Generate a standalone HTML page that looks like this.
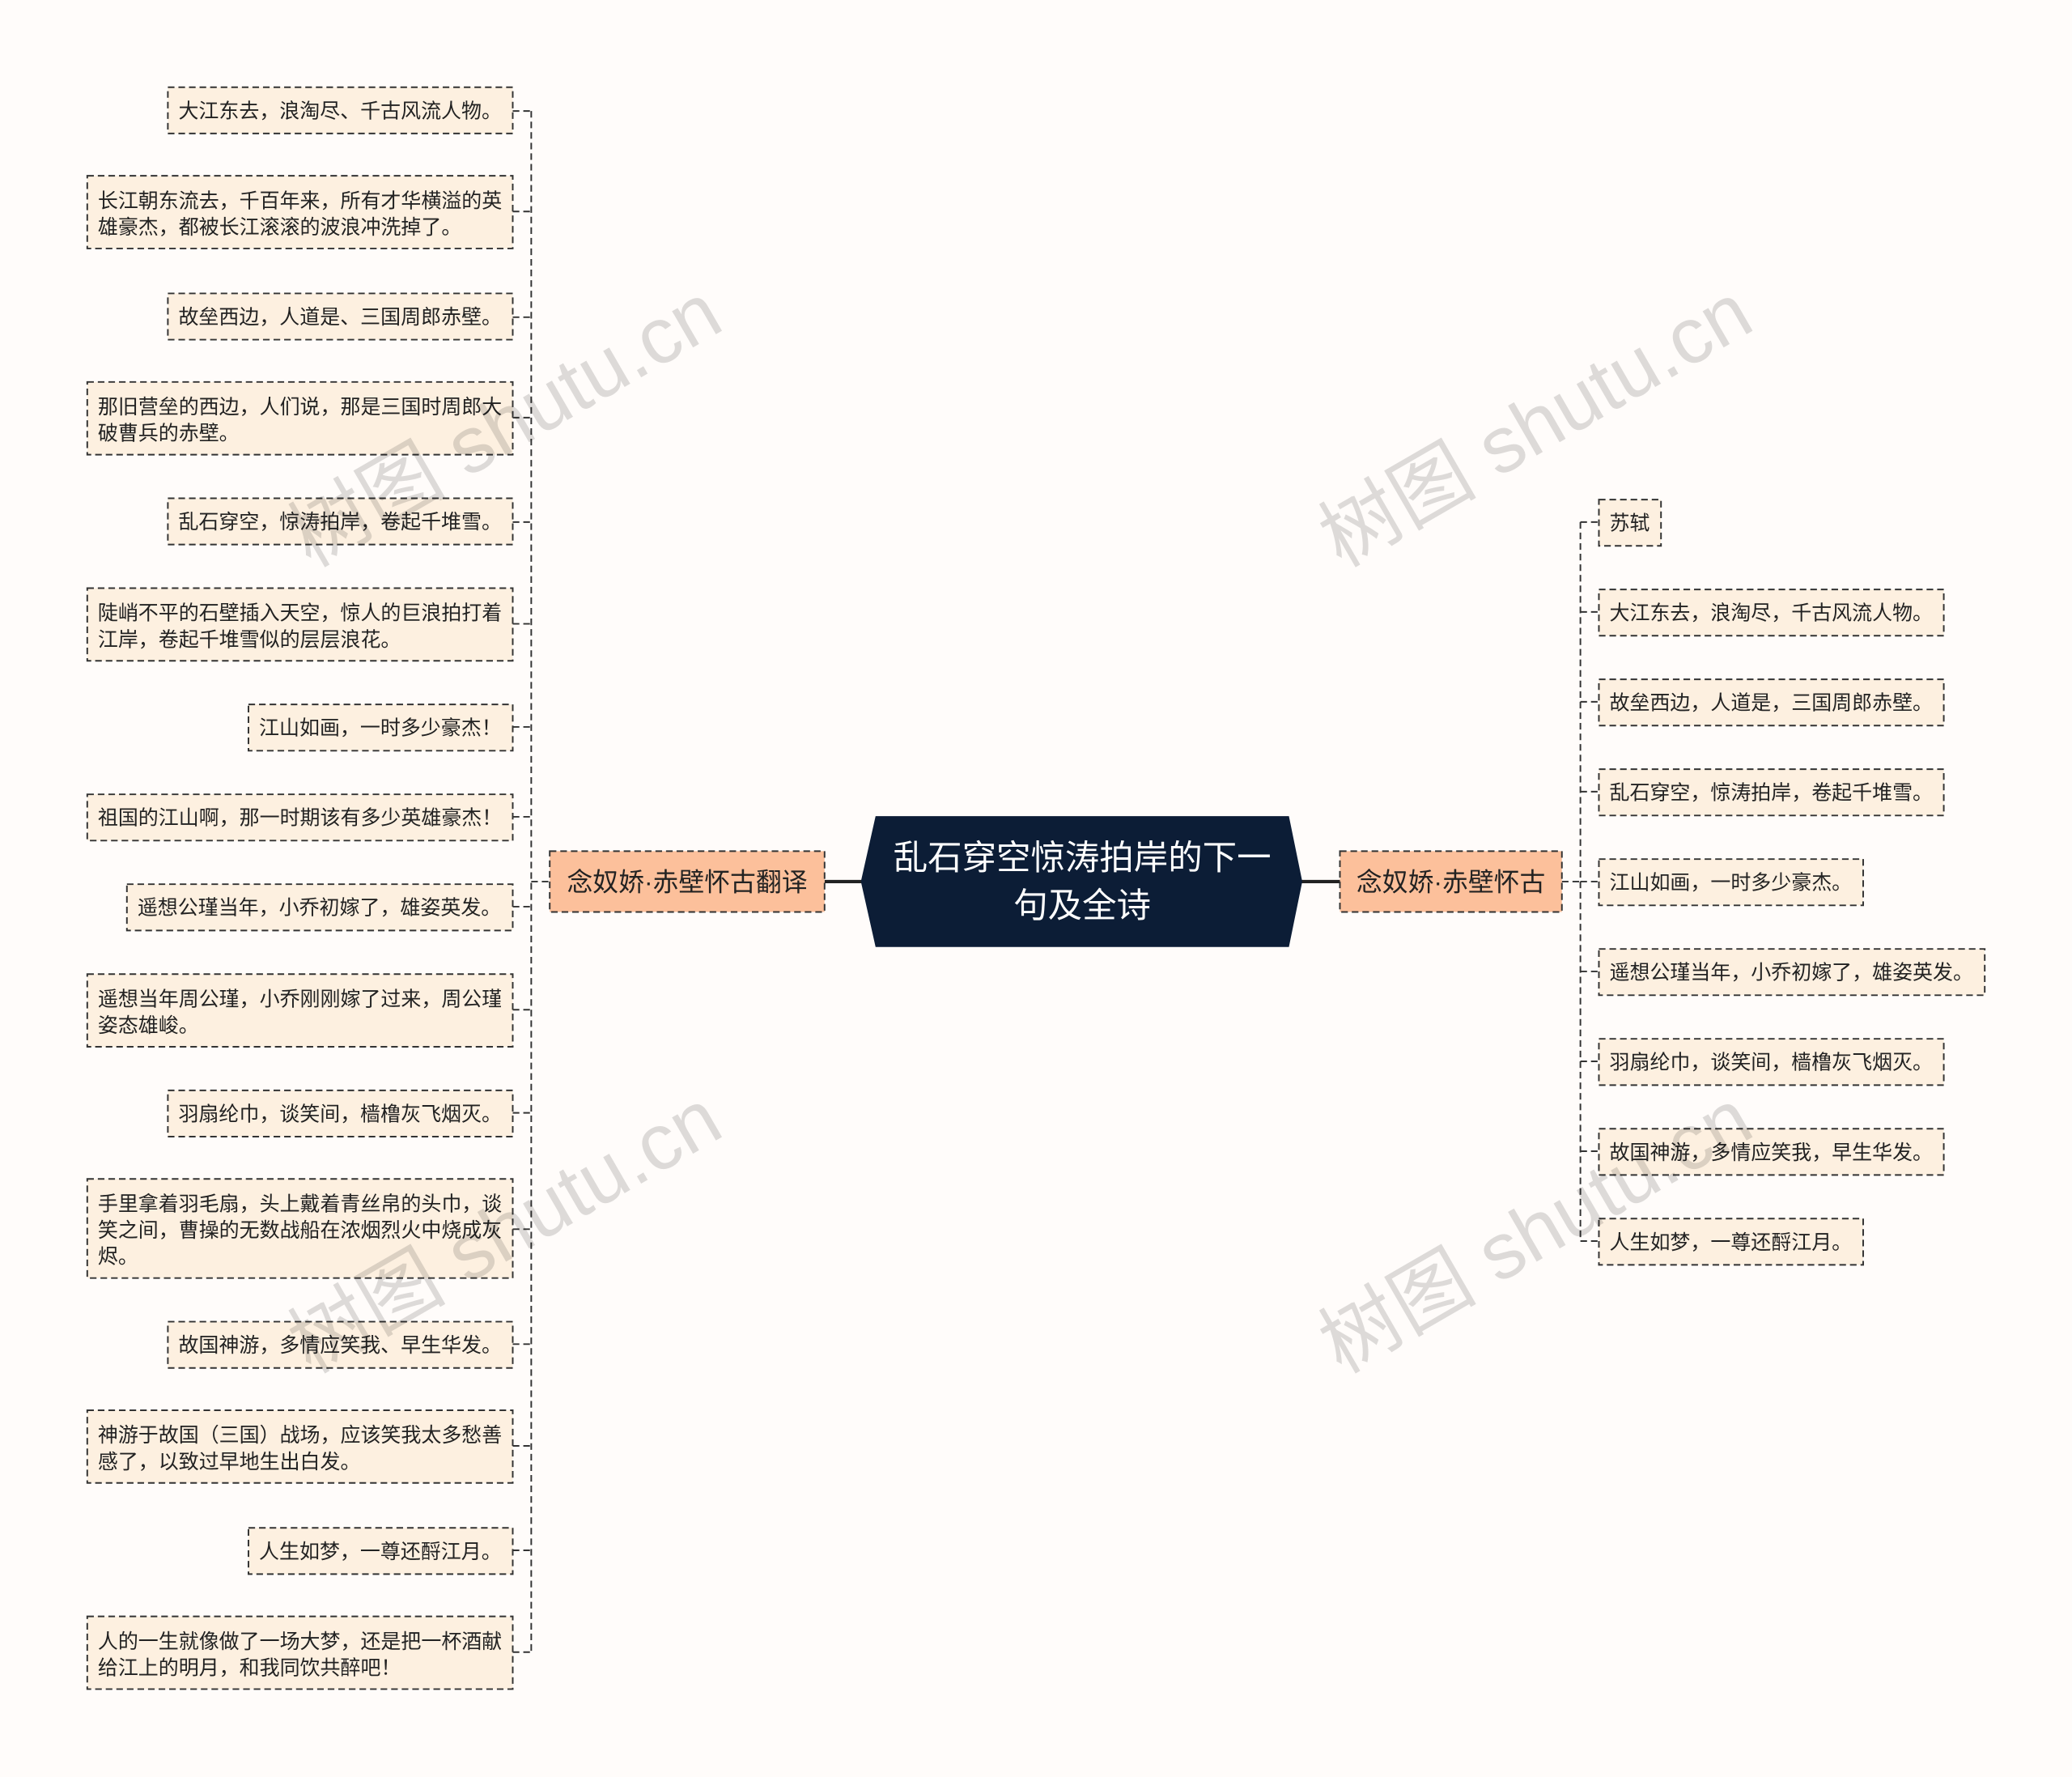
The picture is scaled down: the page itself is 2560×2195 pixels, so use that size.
<!DOCTYPE html>
<html><head><meta charset="utf-8"><style>
html,body{margin:0;padding:0;background:#fffcfa;}
svg{display:block;}
text{font-family:"Liberation Sans","Noto Sans CJK SC",sans-serif;}
.l{fill:#fdf0e0;stroke:#333;stroke-width:1.2;stroke-dasharray:5,3;}
.t{font-size:15.3px;fill:#222;}
.c{stroke:#333;stroke-width:1.2;stroke-dasharray:5,3;fill:none;}
.wm{font-size:60px;fill:#000;opacity:0.13;}
</style></head><body>
<svg width="2560" height="2195" viewBox="0 0 1568 1344.5" xmlns="http://www.w3.org/2000/svg">
<rect width="1568" height="1345" fill="#fffcfa"/>
<path class="c" d="M402 84 V1250"/>
<g class="c">
<path d="M388 84H402M388 160H402M388 240H402M388 316H402M388 395H402M388 472H402M388 550H402M388 618H402M388 686H402M388 764H402M388 842H402M388 930H402M388 1017H402M388 1094H402M388 1173H402M388 1250H402M402 667H416"/>
<path d="M1182 667H1196M1196 395V939M1196 395H1210M1196 463H1210M1196 531H1210M1196 599H1210M1196 667H1210M1196 735H1210M1196 803H1210M1196 871H1210M1196 939H1210"/>
</g>
<path d="M624 667H652M985 667H1014" stroke="#222" stroke-width="2.5"/>
<polygon points="663,618 975,618 985,667 975,716 663,716 652,667" fill="#0c1d36" stroke="#0c1d36"/>
<text x="819" y="658" text-anchor="middle" font-size="26" fill="#fff">乱石穿空惊涛拍岸的下一</text>
<text x="819" y="694" text-anchor="middle" font-size="26" fill="#fff">句及全诗</text>
<rect x="416" y="644" width="208" height="46" fill="#fcc09b" stroke="#333" stroke-width="1.2" stroke-dasharray="5,3"/>
<text x="520" y="674" text-anchor="middle" font-size="19.5" fill="#222">念奴娇·赤壁怀古翻译</text>
<rect x="1014" y="644" width="168" height="46" fill="#fcc09b" stroke="#333" stroke-width="1.2" stroke-dasharray="5,3"/>
<text x="1098" y="674" text-anchor="middle" font-size="19.5" fill="#222">念奴娇·赤壁怀古</text>
<g class="t">
<rect class="l" x="127" y="66" width="261" height="35"/><text x="135" y="89">大江东去，浪淘尽、千古风流人物。</text>
<rect class="l" x="66" y="133" width="322" height="55"/><text x="74" y="157">长江朝东流去，千百年来，所有才华横溢的英</text><text x="74" y="177">雄豪杰，都被长江滚滚的波浪冲洗掉了。</text>
<rect class="l" x="127" y="222" width="261" height="35"/><text x="135" y="245">故垒西边，人道是、三国周郎赤壁。</text>
<rect class="l" x="66" y="289" width="322" height="55"/><text x="74" y="313">那旧营垒的西边，人们说，那是三国时周郎大</text><text x="74" y="333">破曹兵的赤壁。</text>
<rect class="l" x="127" y="377" width="261" height="35"/><text x="135" y="400">乱石穿空，惊涛拍岸，卷起千堆雪。</text>
<rect class="l" x="66" y="445" width="322" height="55"/><text x="74" y="469">陡峭不平的石壁插入天空，惊人的巨浪拍打着</text><text x="74" y="489">江岸，卷起千堆雪似的层层浪花。</text>
<rect class="l" x="188" y="533" width="200" height="35"/><text x="196" y="556">江山如画，一时多少豪杰！</text>
<rect class="l" x="66" y="601" width="322" height="35"/><text x="74" y="624">祖国的江山啊，那一时期该有多少英雄豪杰！</text>
<rect class="l" x="96" y="669" width="292" height="35"/><text x="104" y="692">遥想公瑾当年，小乔初嫁了，雄姿英发。</text>
<rect class="l" x="66" y="737" width="322" height="55"/><text x="74" y="761">遥想当年周公瑾，小乔刚刚嫁了过来，周公瑾</text><text x="74" y="781">姿态雄峻。</text>
<rect class="l" x="127" y="825" width="261" height="35"/><text x="135" y="848">羽扇纶巾，谈笑间，樯橹灰飞烟灭。</text>
<rect class="l" x="66" y="892" width="322" height="75"/><text x="74" y="916">手里拿着羽毛扇，头上戴着青丝帛的头巾，谈</text><text x="74" y="936">笑之间，曹操的无数战船在浓烟烈火中烧成灰</text><text x="74" y="956">烬。</text>
<rect class="l" x="127" y="1000" width="261" height="35"/><text x="135" y="1023">故国神游，多情应笑我、早生华发。</text>
<rect class="l" x="66" y="1067" width="322" height="55"/><text x="74" y="1091">神游于故国（三国）战场，应该笑我太多愁善</text><text x="74" y="1111">感了，以致过早地生出白发。</text>
<rect class="l" x="188" y="1156" width="200" height="35"/><text x="196" y="1179">人生如梦，一尊还酹江月。</text>
<rect class="l" x="66" y="1223" width="322" height="55"/><text x="74" y="1247">人的一生就像做了一场大梦，还是把一杯酒献</text><text x="74" y="1267">给江上的明月，和我同饮共醉吧！</text>
<rect class="l" x="1210" y="378" width="47" height="35"/><text x="1218" y="401">苏轼</text>
<rect class="l" x="1210" y="446" width="261" height="35"/><text x="1218" y="469">大江东去，浪淘尽，千古风流人物。</text>
<rect class="l" x="1210" y="514" width="261" height="35"/><text x="1218" y="537">故垒西边，人道是，三国周郎赤壁。</text>
<rect class="l" x="1210" y="582" width="261" height="35"/><text x="1218" y="605">乱石穿空，惊涛拍岸，卷起千堆雪。</text>
<rect class="l" x="1210" y="650" width="200" height="35"/><text x="1218" y="673">江山如画，一时多少豪杰。</text>
<rect class="l" x="1210" y="718" width="292" height="35"/><text x="1218" y="741">遥想公瑾当年，小乔初嫁了，雄姿英发。</text>
<rect class="l" x="1210" y="786" width="261" height="35"/><text x="1218" y="809">羽扇纶巾，谈笑间，樯橹灰飞烟灭。</text>
<rect class="l" x="1210" y="854" width="261" height="35"/><text x="1218" y="877">故国神游，多情应笑我，早生华发。</text>
<rect class="l" x="1210" y="922" width="200" height="35"/><text x="1218" y="945">人生如梦，一尊还酹江月。</text>
</g>
<text class="wm" transform="translate(235,430) rotate(-30)">树图 shutu.cn</text>
<text class="wm" transform="translate(1015,430) rotate(-30)">树图 shutu.cn</text>
<text class="wm" transform="translate(235,1040) rotate(-30)">树图 shutu.cn</text>
<text class="wm" transform="translate(1015,1040) rotate(-30)">树图 shutu.cn</text>
</svg>
</body></html>
